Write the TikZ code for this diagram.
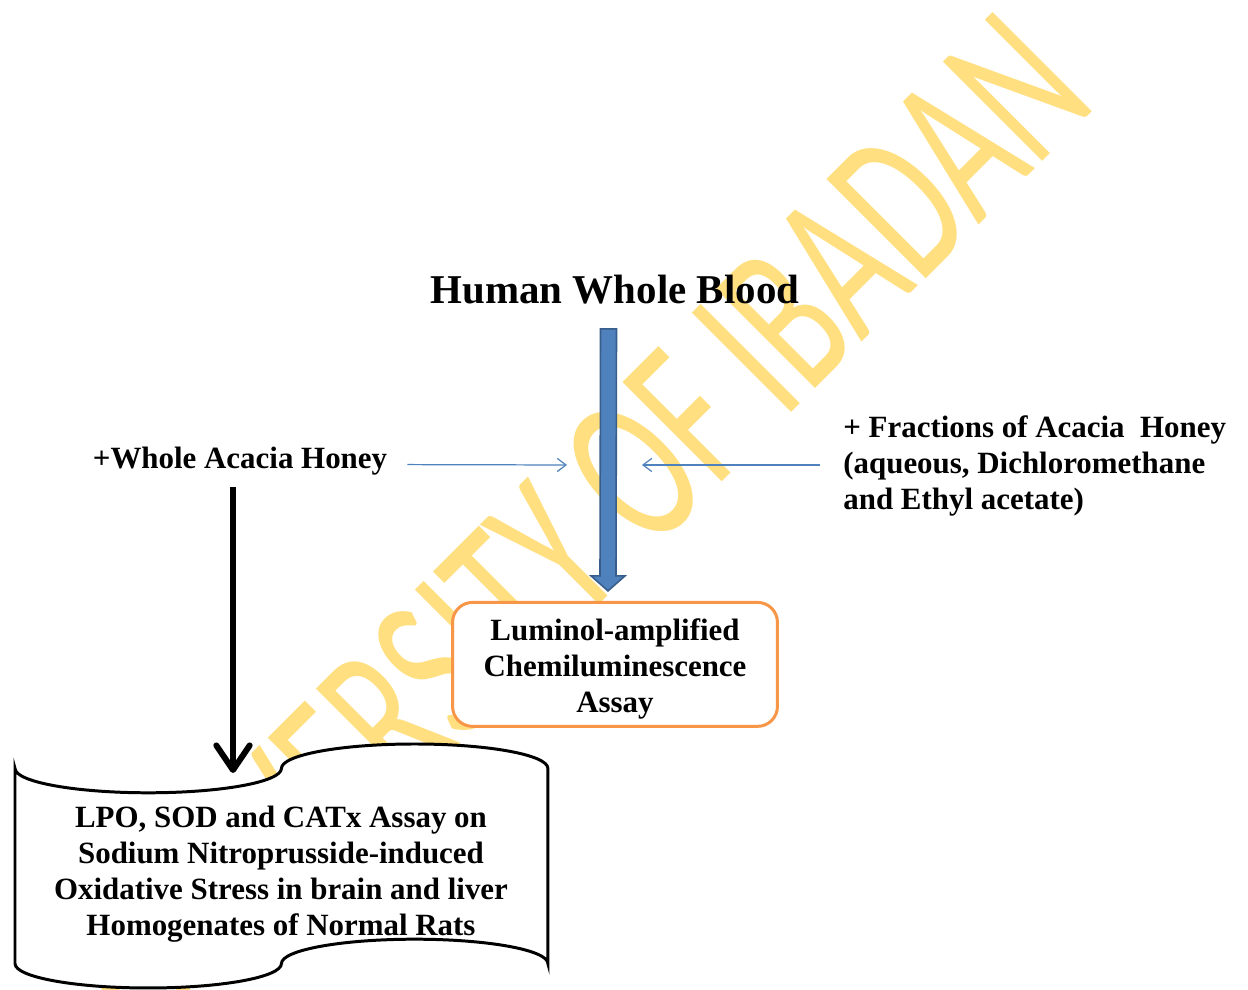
\documentclass[tikz,border=0pt]{standalone}
\usepackage{fontspec}
\setmainfont{Liberation Serif}
\newfontfamily\wmfont{Carlito}
\usetikzlibrary{arrows.meta,positioning,calc}
\definecolor{honeyblue}{HTML}{4F81BD}
\definecolor{honeyblueline}{HTML}{385D8A}
\definecolor{assayorange}{HTML}{F79646}
\definecolor{wmyellow}{HTML}{FFDF80}
\tikzset{
	lbl/.style={font=\fontsize{17.6}{20.5}\selectfont\bfseries, inner sep=0pt, align=center},
	assaybox/.style={lbl, draw=assayorange, line width=1.7pt, rounded corners=4mm,
		fill=white, minimum width=6.5cm, minimum height=2.48cm},
	tapeline/.style={draw=black, line width=1.7pt, fill=white},
	thinarrow/.style={-{Straight Barb[length=5pt,width=7.5pt]}, honeyblue, line width=0.7pt},
	fatarrow/.style={-{Straight Barb[length=14pt,width=19pt,round]}, line width=3.4pt},
	bloodarrow/.style={fill=honeyblue, draw=honeyblueline, line width=0.9pt}
}

\begin{document}
\begin{tikzpicture}[x=0.02cm, y=0.02cm]
	
	\useasboundingbox (0,0) rectangle (1248,990);
	\clip (0,0) rectangle (1248,990);
	
	%% -- watermark, behind everything
	\node[rotate=45, inner sep=0pt, text=wmyellow,
	font=\wmfont\fontsize{124.6}{130}\selectfont] (wm) at (576,461)
	{\scalebox{0.64}[1]{UNIVERSITY OF IBADAN}};
	
	%% -- top of the flow
	\node[lbl, anchor=base, font=\fontsize{23.3}{26}\selectfont\bfseries] (blood)
	at (615,686.5) {Human Whole Blood};
	
	\node[assaybox, below=5.93cm of blood] (lum)
	{\rule{0pt}{17.8pt}Luminol-amplified\\Chemiluminescence\\Assay};
	
	%% -- side inputs
	\node[lbl, anchor=base] (whole) at (240,521) {+Whole Acacia Honey};
	
	\node[lbl, anchor=west, align=left] (frac) at (843,524)
	{+ Fractions of Acacia \ Honey\\(aqueous, Dichloromethane\\and Ethyl acetate)};
	
	%% -- tape shaped result box
	\coordinate (dc) at (281,116);
	\draw[tapeline] ($(dc)+(-266,105.6)$)
	arc[start angle=180, end angle=360, x radius=2.665cm, y radius=0.488cm]
	arc[start angle=180, end angle=0, x radius=2.665cm, y radius=0.488cm]
	-- ++(0,-195.2)
	arc[start angle=0, end angle=180, x radius=2.665cm, y radius=0.488cm]
	arc[start angle=0, end angle=-180, x radius=2.665cm, y radius=0.488cm]
	-- cycle;
	\node[lbl] (doc) at (dc)
	{LPO, SOD and CATx Assay on\\Sodium Nitroprusside-induced\\
		Oxidative Stress in brain and liver\\Homogenates of Normal Rats};
	
	%% -- blood arrow (block arrow)
	\coordinate (bt) at ($(blood.south)+(-6.5,-24.5)$);
	\coordinate (bb) at ($(lum.north)+(-7,10)$);
	\filldraw[bloodarrow] ($(bt)+(-8,0)$) -- ($(bt)+(8,0)$) -- ($(bb)+(8,15)$)
	-- ($(bb)+(17,15)$) -- (bb) -- ($(bb)+(-17,15)$) -- ($(bb)+(-8,15)$) -- cycle;
	
	%% -- honey inputs into the blood
	\coordinate (lin) at (567,525);
	\coordinate (rin) at (642,525);
	\draw[thinarrow] ($(whole.east)+(20,-3)$) -- (lin);
	\draw[thinarrow] ($(frac.west)+(-23,1)$) -- (rin);
	
	%% -- whole honey down to the tissue assays
	\coordinate (dtip) at (233,217);
	\draw[fatarrow] ($(whole.base)+(-7,-18)$) -- (dtip);
	
\end{tikzpicture}
\end{document}
